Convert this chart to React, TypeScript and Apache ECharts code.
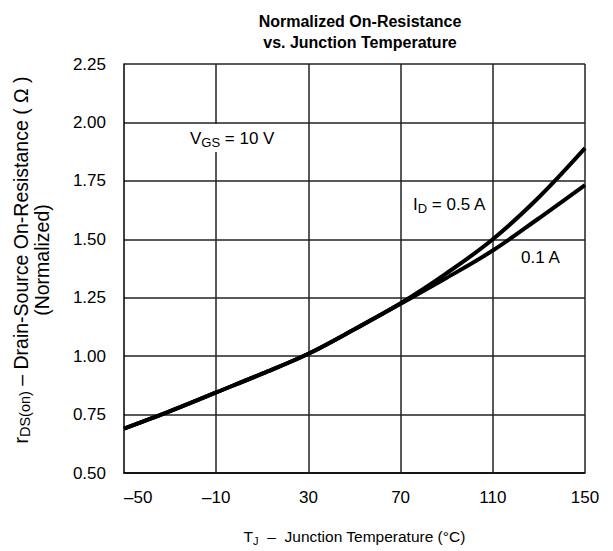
import React, { useEffect, useRef } from "react";
import * as echarts from "echarts";

const temps = [-50, -30, -10, 10, 30, 50, 70, 90, 110, 130, 150];
const id05 = [0.69, 0.765, 0.845, 0.925, 1.01, 1.115, 1.226, 1.355, 1.5, 1.68, 1.89];
const id01 = [0.69, 0.765, 0.845, 0.925, 1.01, 1.115, 1.224, 1.335, 1.452, 1.59, 1.732];
const xTicks = [-50, -10, 30, 70, 110, 150];
const yMin = 0.5;
const yMax = 2.25;
const yStep = 0.25;

const FONT = "Liberation Sans, Arial, Helvetica, sans-serif";

export default function App() {
  const ref = useRef<HTMLDivElement>(null);
  useEffect(() => {
    document.body.style.margin = "0";
    const chart = echarts.init(ref.current!, null, { renderer: "svg" });
    const ann = { fontSize: 17, fontFamily: FONT, color: "#000" };
    const annSub = { fontSize: 13, fontFamily: FONT, color: "#000", padding: [9, 0, 0, 0] };
    const yn = { fontSize: 19.5, fontFamily: FONT, color: "#000", lineHeight: 21 };
    const ynSub = { fontSize: 14.5, fontFamily: FONT, color: "#000", lineHeight: 21, padding: [9, 0, 0, 0] };
    chart.setOption({
      animation: false,
      backgroundColor: "#fff",
      title: {
        text: "Normalized On-Resistance\nvs. Junction Temperature",
        left: 355,
        top: 6,
        textAlign: "center",
        textStyle: { fontSize: 16, fontWeight: "bold", fontFamily: FONT, color: "#000", lineHeight: 21 },
      },
      grid: { left: 124, right: 28, top: 64, bottom: 78 },
      xAxis: {
        type: "value",
        min: -50,
        max: 150,
        name: "{t|T}{s|J}{t|  –  Junction Temperature (°C)}",
        nameLocation: "middle",
        nameGap: 54,
        nameTextStyle: {
          rich: {
            t: { fontSize: 15.5, fontFamily: FONT, color: "#000" },
            s: { fontSize: 11, fontFamily: FONT, color: "#000", padding: [8, 0, 0, 0] },
          },
        },
        axisLine: { show: true, onZero: false, lineStyle: { color: "#000", width: 1.5 } },
        axisTick: { show: false },
        axisLabel: {
          customValues: xTicks,
          margin: 16,
          fontSize: 17,
          fontFamily: FONT,
          color: "#000",
          alignMinLabel: "left",
          formatter: (v: number) => (v < 0 ? "–" + Math.abs(v) : String(v)),
        },
        splitLine: { show: false },
      },
      yAxis: {
        type: "value",
        min: yMin,
        max: yMax,
        interval: yStep,
        axisLine: { show: true, onZero: false, lineStyle: { color: "#000", width: 1.5 } },
        axisTick: { show: false },
        axisLabel: {
          margin: 18,
          fontSize: 17,
          fontFamily: FONT,
          color: "#000",
          formatter: (v: number) => v.toFixed(2),
        },
        splitLine: { show: true, lineStyle: { color: "#222", width: 1.5 } },
      },
      series: [
        {
          name: "0.5 A",
          type: "line",
          smooth: 0.35,
          symbol: "none",
          data: temps.map((t, i) => [t, id05[i]]),
          lineStyle: { color: "#000", width: 4 },
          z: 3,
          markLine: {
            silent: true,
            symbol: "none",
            label: { show: false },
            lineStyle: { color: "#222", width: 1.5, type: "solid" },
            data: xTicks.slice(1).map((v) => ({ xAxis: v })),
            z: 1,
          },
        },
        {
          name: "0.1 A",
          type: "line",
          smooth: 0.35,
          symbol: "none",
          data: temps.map((t, i) => [t, id01[i]]),
          lineStyle: { color: "#000", width: 4 },
          z: 3,
        },
      ],
      graphic: [
        {
          type: "text",
          x: 31,
          y: 260,
          rotation: Math.PI / 2,
          z: 10,
          style: {
            text: "{t|r}{s|DS(on)}{t| – Drain-Source On-Resistance ( Ω )}\n{t|(Normalized)}",
            align: "center",
            verticalAlign: "middle",
            rich: { t: yn, s: ynSub },
          },
        },
        {
          type: "text",
          left: 187,
          top: 124,
          z: 10,
          style: {
            text: "{t|V}{s|GS}{t| = 10 V}",
            backgroundColor: "#fff",
            padding: [3, 3, 3, 3],
            rich: { t: ann, s: annSub },
          },
        },
        {
          type: "text",
          left: 410,
          top: 190,
          z: 10,
          style: {
            text: "{t|I}{s|D}{t| = 0.5 A}",
            backgroundColor: "#fff",
            padding: [3, 3, 3, 3],
            rich: { t: ann, s: annSub },
          },
        },
        {
          type: "text",
          left: 521,
          top: 249,
          z: 10,
          style: {
            text: "0.1 A",
            fontSize: 17,
            fontFamily: FONT,
            fill: "#000",
          },
        },
      ],
    });
    return () => chart.dispose();
  }, []);
  return <div ref={ref} style={{ width: 613, height: 551 }} />;
}
